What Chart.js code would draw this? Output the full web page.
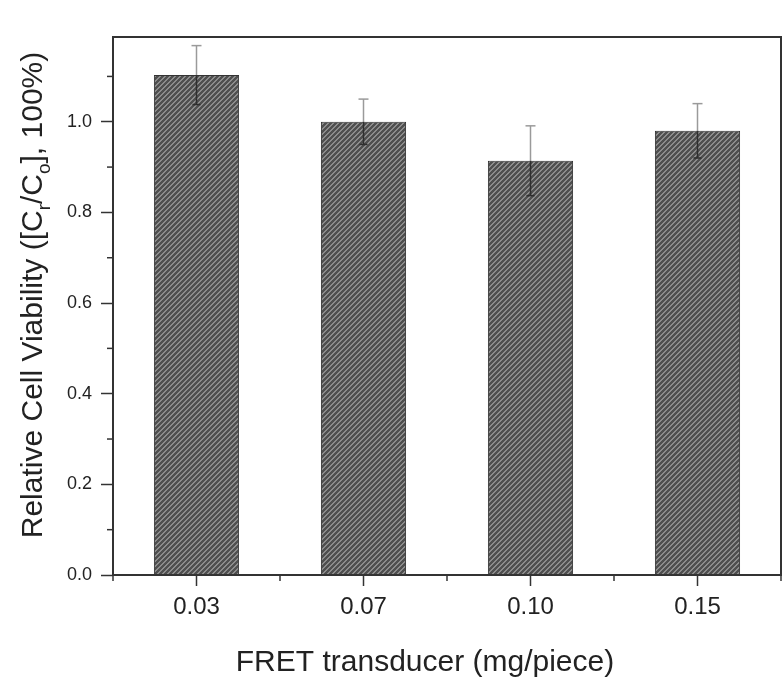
<!DOCTYPE html>
<html>
<head>
<meta charset="utf-8">
<script src="https://cdn.jsdelivr.net/npm/chart.js@4"></script>
<style>
  html, body { margin: 0; padding: 0; background: #fff; }
  #wrap { width: 784px; height: 677px; }
</style>
</head>
<body>
<div id="wrap"><canvas id="viab"></canvas></div>
<script>
const doses = ['0.03', '0.07', '0.10', '0.15'];
const viability = [1.103, 1.0, 0.914, 0.98];
const errors = [0.065, 0.05, 0.077, 0.06];
const minorY = [0.1, 0.3, 0.5, 0.7, 0.9, 1.1];
const xTitle = 'FRET transducer (mg/piece)';

const FONT = '"Liberation Sans", Arial, sans-serif';

// diagonal hatch like the origin plot fill
function hatch() {
  const c = document.createElement('canvas');
  c.width = 5; c.height = 5;
  const g = c.getContext('2d');
  for (let x = 0; x < 5; x++) {
    for (let y = 0; y < 5; y++) {
      g.fillStyle = ((x + y) % 5 < 2) ? '#8c8c8c' : '#4f4f4f';
      g.fillRect(x, y, 1, 1);
    }
  }
  return g.createPattern(c, 'repeat');
}

const extras = {
  id: 'extras',
  afterDatasetsDraw(chart) {
    const ctx = chart.ctx;
    const y = chart.scales.y, x = chart.scales.x;
    const meta = chart.getDatasetMeta(0);
    ctx.save();
    // error bars, cap only on the top
    meta.data.forEach((bar, i) => {
      const top = y.getPixelForValue(viability[i] + errors[i]);
      const bot = y.getPixelForValue(viability[i] - errors[i]);
      const v = y.getPixelForValue(viability[i]);
      ctx.lineWidth = 1.5;
      ctx.strokeStyle = '#9a9a9a';
      ctx.beginPath(); ctx.moveTo(bar.x, top); ctx.lineTo(bar.x, v); ctx.stroke();
      ctx.beginPath(); ctx.moveTo(bar.x - 5, top); ctx.lineTo(bar.x + 5, top); ctx.stroke();
      ctx.strokeStyle = '#2e2e2e';
      ctx.beginPath(); ctx.moveTo(bar.x, v); ctx.lineTo(bar.x, bot); ctx.stroke();
      ctx.beginPath(); ctx.moveTo(bar.x - 4, bot); ctx.lineTo(bar.x + 4, bot); ctx.stroke();
    });
    const a = chart.chartArea;
    ctx.strokeStyle = '#333';
    ctx.lineWidth = 1.5;
    // minor ticks
    minorY.forEach(v => {
      const p = y.getPixelForValue(v);
      ctx.beginPath(); ctx.moveTo(a.left - 6, p); ctx.lineTo(a.left, p); ctx.stroke();
    });
    for (let i = 0; i <= doses.length; i++) {
      const p = x.getPixelForValue(i - 0.5);
      ctx.beginPath(); ctx.moveTo(p, a.bottom); ctx.lineTo(p, a.bottom + 6); ctx.stroke();
    }
    // frame
    ctx.lineWidth = 2;
    ctx.strokeRect(a.left, a.top, a.right - a.left, a.bottom - a.top);

    // x title
    ctx.fillStyle = '#222';
    ctx.font = '30px ' + FONT;
    ctx.textAlign = 'center';
    ctx.textBaseline = 'middle';
    ctx.fillText(xTitle, 425, 663);

    // y title with subscripts
    ctx.textAlign = 'left';
    const parts = [
      ['Relative Cell Viability ([C', false],
      ['r', true],
      ['/C', false],
      ['o', true],
      ['], 100%)', false]
    ];
    const big = '30px ' + FONT, small = '19px ' + FONT;
    let w = 0;
    parts.forEach(p => { ctx.font = p[1] ? small : big; w += ctx.measureText(p[0]).width; });
    ctx.translate(34, 295);
    ctx.rotate(-Math.PI / 2);
    let cx = -w / 2;
    parts.forEach(p => {
      ctx.font = p[1] ? small : big;
      ctx.fillText(p[0], cx, p[1] ? 11 : 0);
      cx += ctx.measureText(p[0]).width;
    });
    ctx.restore();
  }
};

new Chart(document.getElementById('viab'), {
  type: 'bar',
  data: {
    labels: doses,
    datasets: [{
      data: viability,
      backgroundColor: hatch(),
      borderColor: '#333',
      borderWidth: 1,
      barPercentage: 0.51,
      categoryPercentage: 1.0
    }]
  },
  options: {
    responsive: true,
    maintainAspectRatio: false,
    animation: false,
    layout: { padding: { top: 37, right: 3 } },
    plugins: {
      legend: { display: false },
      tooltip: { enabled: false }
    },
    scales: {
      x: {
        grid: { display: true, offset: false, drawOnChartArea: false, tickLength: 11, tickWidth: 1.5, tickColor: '#333' },
        border: { display: false },
        ticks: { color: '#222', font: { family: FONT, size: 24 }, padding: 7, maxRotation: 0 },
        afterFit(s) { s.height = 102; }
      },
      y: {
        min: 0,
        max: 1.187,
        grid: { drawOnChartArea: false, tickLength: 12, tickWidth: 1.5, tickColor: '#333' },
        border: { display: false },
        ticks: {
          stepSize: 0.2,
          includeBounds: false,
          color: '#222',
          font: { family: FONT, size: 18 },
          padding: 9,
          callback: v => v.toFixed(1)
        },
        afterFit(s) { s.width = 113; }
      }
    }
  },
  plugins: [extras]
});
</script>
</body>
</html>
